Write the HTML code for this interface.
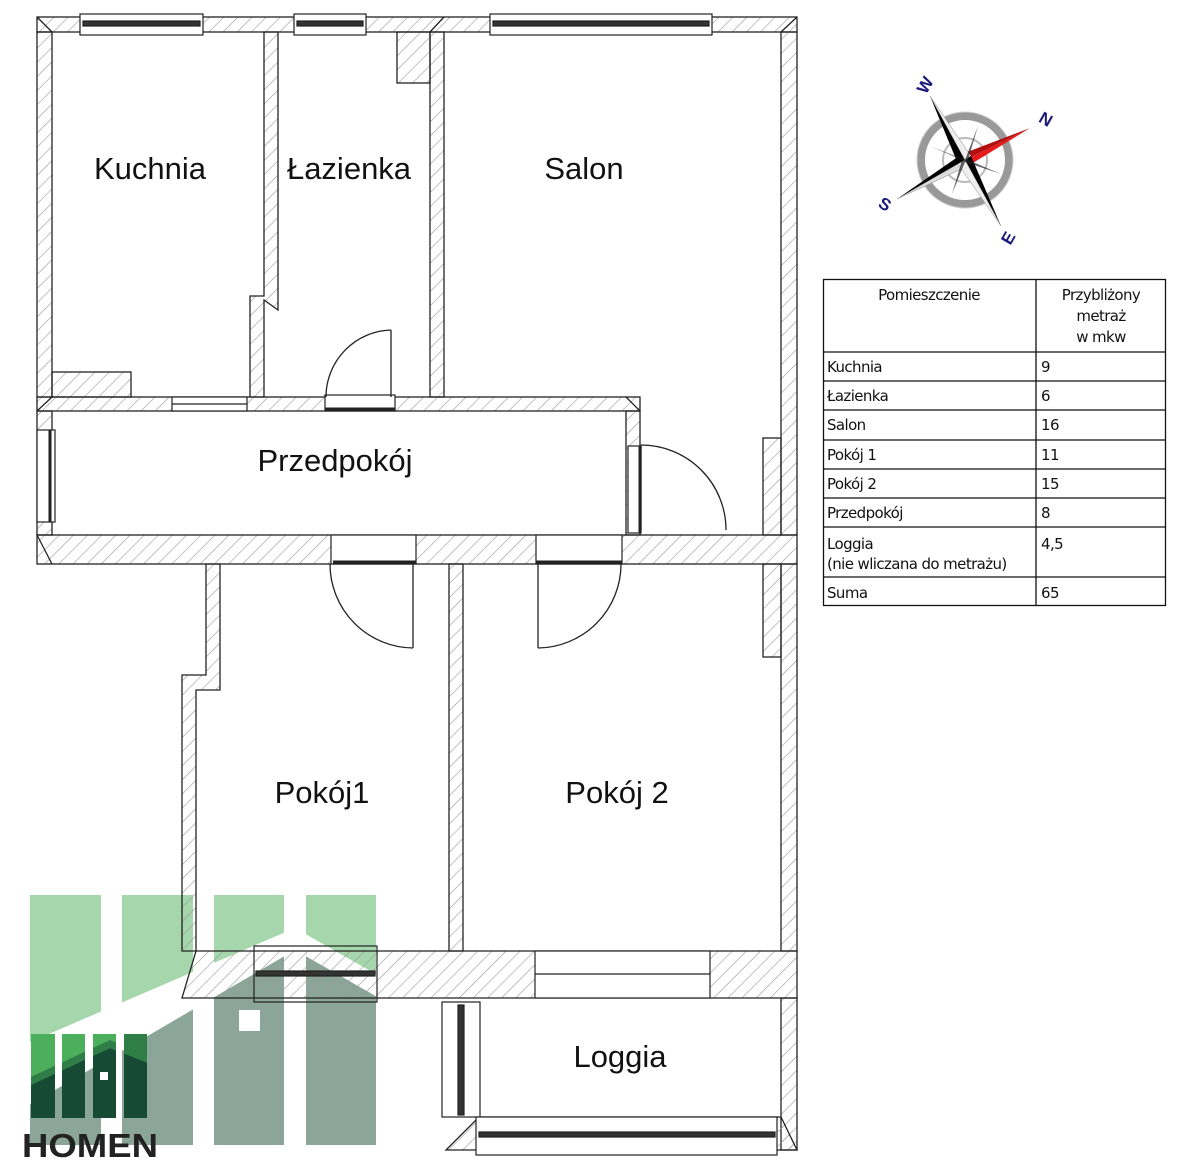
<!DOCTYPE html>
<html><head><meta charset="utf-8"><style>
html,body{margin:0;padding:0;background:#fff;width:1200px;height:1176px;overflow:hidden}
svg{display:block}
.w{fill:url(#h);stroke:#222;stroke-width:1.3}
.l{fill:none;stroke:#222;stroke-width:1.3}
.win{fill:#fff;stroke:#222;stroke-width:1.2}
.rm{font-family:"Liberation Sans",sans-serif;font-size:31px;fill:#111;text-anchor:middle}
.t{font-family:"DejaVu Sans","Liberation Sans",sans-serif;font-size:15px;fill:#111;letter-spacing:-0.6px}
</style></head><body>
<svg width="1200" height="1176" viewBox="0 0 1200 1176" xmlns="http://www.w3.org/2000/svg">
<defs>
<pattern id="h" patternUnits="userSpaceOnUse" width="10" height="10" patternTransform="rotate(45)">
<line x1="0" y1="0" x2="0" y2="10" stroke="#9a9a9a" stroke-width="1.2"/>
</pattern>
<clipPath id="bars"><rect x="30" y="895" width="71" height="250"/><rect x="122" y="895" width="71" height="250"/><rect x="214" y="895" width="70" height="250"/><rect x="306" y="895" width="70" height="250"/></clipPath>
<clipPath id="sb"><rect x="31" y="1034" width="24" height="84"/><rect x="62" y="1034" width="23" height="84"/><rect x="93" y="1034" width="23" height="84"/><rect x="124" y="1034" width="23" height="84"/></clipPath>
</defs>

<!-- logo (behind plan) -->
<g>
<g clip-path="url(#bars)">
<rect x="0" y="880" width="400" height="280" fill="#a5d6ac"/>
<polygon points="0,1055 295,928 400,988 400,1160 0,1160" fill="#fff"/>
<polygon points="0,1122 295,950 400,1010 400,1146 0,1146" fill="#8ba598"/>
</g>
<rect x="239" y="1010" width="21" height="21" fill="#fff"/>
<g clip-path="url(#sb)">
<rect x="20" y="1030" width="140" height="95" fill="#4caf5c"/>
<rect x="124" y="1030" width="30" height="95" fill="#2f7d47"/>
<polygon points="20,1090 110,1048 160,1068 160,1122 20,1122" fill="#174a34"/>
<polygon points="20,1082 110,1040 160,1060 160,1066 110,1048 20,1090" fill="#2f7d47"/>
</g>
<rect x="100" y="1072" width="8" height="8" fill="#fff"/>
<text x="22" y="1157" font-family="Liberation Sans,sans-serif" font-weight="bold" font-size="33" fill="#222" textLength="136" lengthAdjust="spacingAndGlyphs">HOMEN</text>
</g>

<!-- walls -->
<g class="w">
<rect x="37" y="17" width="760" height="15"/>
<rect x="37" y="32" width="15" height="365"/>
<rect x="781" y="32" width="16" height="503"/>
<polygon points="264,32 278,32 278,310 264,300 264,397 250,397 250,296 264,296"/>
<rect x="430" y="32" width="14" height="365"/>
<rect x="397" y="32" width="33" height="51"/>
<rect x="52" y="372" width="79" height="25"/>
<rect x="37" y="397" width="603" height="14"/>
<rect x="626" y="411" width="14" height="124"/>
<rect x="37" y="411" width="15" height="124"/>
<rect x="37" y="535" width="760" height="29"/>
<rect x="763" y="438" width="18" height="97"/>
<rect x="763" y="564" width="18" height="93"/>
<rect x="781" y="564" width="16" height="387"/>
<polygon points="206,564 220,564 220,690 196,690 196,951 182,951 182,675 206,675"/>
<rect x="449" y="564" width="14" height="387"/>
<polygon points="196,951 797,951 797,998 182,998"/>
<rect x="781" y="998" width="16" height="152"/>
<polygon points="479,1117 781,1117 797,1150 446,1150"/>
</g>
<!-- openings (white) -->
<g fill="#fff" stroke="#222" stroke-width="1.2">
<rect x="172" y="397" width="75" height="14"/><line x1="172" y1="404" x2="247" y2="404"/>
<rect x="535" y="951" width="175" height="47"/><line x1="535" y1="974" x2="710" y2="974"/>
<rect x="331" y="535" width="85" height="29"/>
<rect x="536" y="535" width="86" height="29"/>
<rect x="325" y="395" width="70" height="16"/>
<rect x="628" y="446" width="13" height="87"/>
<rect x="37" y="430" width="18" height="92"/>
</g>
<line x1="37" y1="535" x2="52" y2="564" class="l"/>
<line x1="37" y1="411" x2="52" y2="397" class="l"/>
<line x1="626" y1="397" x2="640" y2="411" class="l"/>
<line x1="430" y1="32" x2="444" y2="17" class="l"/>
<line x1="781" y1="32" x2="797" y2="17" class="l"/>
<line x1="52" y1="32" x2="37" y2="17" class="l"/>
<!-- doors -->
<g class="l" stroke-width="1.5">
<path d="M391 330 A67 67 0 0 0 326 397"/><line x1="391" y1="330" x2="391" y2="397"/>
<path d="M641 445 A85 85 0 0 1 726 530"/><line x1="641" y1="445" x2="641" y2="530"/>
<path d="M413 648 A84 84 0 0 1 330 564"/><line x1="413" y1="564" x2="413" y2="648"/>
<path d="M538 648 A84 84 0 0 0 621 564"/><line x1="538" y1="564" x2="538" y2="648"/>
<line x1="325" y1="409" x2="395" y2="409" stroke-width="3"/>
<line x1="640" y1="446" x2="640" y2="533" stroke-width="3"/>
<line x1="50" y1="430" x2="50" y2="522" stroke-width="3"/>
<line x1="333" y1="562" x2="416" y2="562" stroke-width="3"/>
<line x1="536" y1="562" x2="622" y2="562" stroke-width="3"/>
</g>
<!-- windows -->
<g class="win">
<rect x="80" y="14" width="123" height="21"/><rect x="83" y="21" width="117" height="5" fill="#333"/>
<rect x="294" y="14" width="72" height="21"/><rect x="297" y="21" width="66" height="5" fill="#333"/>
<rect x="490" y="14" width="222" height="21"/><rect x="493" y="21" width="216" height="5" fill="#333"/>
<rect x="254" y="946" width="123" height="56" fill="none"/><rect x="256" y="971" width="119" height="5" fill="#333"/>
<rect x="442" y="1002" width="38" height="115"/><rect x="458" y="1005" width="6" height="110" fill="#333"/>
<rect x="476" y="1117" width="301" height="38"/><rect x="479" y="1132" width="296" height="5" fill="#333"/>
</g>

<!-- labels -->
<text class="rm" x="150" y="179">Kuchnia</text>
<text class="rm" x="349" y="179">Łazienka</text>
<text class="rm" x="584" y="179">Salon</text>
<text class="rm" x="335" y="471">Przedpokój</text>
<text class="rm" x="322" y="803">Pokój1</text>
<text class="rm" x="617" y="803">Pokój 2</text>
<text class="rm" x="620" y="1067">Loggia</text>

<!-- compass -->
<g>
<circle cx="965" cy="160" r="44" fill="none" stroke="#999" stroke-width="8"/>
<circle cx="965" cy="160" r="48" fill="none" stroke="#ccc" stroke-width="1"/>
<circle cx="965" cy="160" r="22" fill="none" stroke="#bbb" stroke-width="2"/>
<polygon points="965,160 1030,128 968,166" fill="#e31b1b"/>
<polygon points="965,160 1030,128 962,154" fill="#b01010"/>
<polygon points="965,160 897,199 962,154" fill="#000"/>
<polygon points="965,160 897,199 968,166" fill="#ddd" stroke="#888" stroke-width="0.5"/>
<polygon points="965,160 930,96 958,164" fill="#000"/>
<polygon points="965,160 930,96 971,156" fill="#eee" stroke="#888" stroke-width="0.5"/>
<polygon points="965,160 1001,226 971,156" fill="#000"/>
<polygon points="965,160 1001,226 958,164" fill="#eee" stroke="#888" stroke-width="0.5"/>
<polygon points="965,160 978,126 968,160 1001,174 965,162 952,194 962,160 930,146" fill="#222" opacity="0.7"/>
<g font-family="Liberation Sans,sans-serif" font-weight="bold" font-size="17" fill="#1a1a7a" text-anchor="middle">
<text x="925" y="91" transform="rotate(-60 925 85)">W</text>
<text x="1046" y="125" transform="rotate(30 1046 119)">N</text>
<text x="885" y="210" transform="rotate(30 885 204)">S</text>
<text x="1008" y="244" transform="rotate(-60 1008 238)">E</text>
</g>
</g>

<!-- table -->
<g fill="none" stroke="#111" stroke-width="1.3">
<rect x="823.5" y="279.5" width="342" height="326"/>
<line x1="1036" y1="279" x2="1036" y2="606"/>
<line x1="823" y1="352" x2="1166" y2="352"/>
<line x1="823" y1="381" x2="1166" y2="381"/>
<line x1="823" y1="410" x2="1166" y2="410"/>
<line x1="823" y1="440" x2="1166" y2="440"/>
<line x1="823" y1="469" x2="1166" y2="469"/>
<line x1="823" y1="498" x2="1166" y2="498"/>
<line x1="823" y1="527" x2="1166" y2="527"/>
<line x1="823" y1="577" x2="1166" y2="577"/>
</g>
<g class="t">
<text x="929" y="300" text-anchor="middle">Pomieszczenie</text>
<text x="1101" y="300" text-anchor="middle">Przybliżony</text>
<text x="1101" y="321" text-anchor="middle">metraż</text>
<text x="1101" y="342" text-anchor="middle">w mkw</text>
<text x="827" y="372">Kuchnia</text><text x="1041" y="372">9</text>
<text x="827" y="401">Łazienka</text><text x="1041" y="401">6</text>
<text x="827" y="430">Salon</text><text x="1041" y="430">16</text>
<text x="827" y="460">Pokój 1</text><text x="1041" y="460">11</text>
<text x="827" y="489">Pokój 2</text><text x="1041" y="489">15</text>
<text x="827" y="518">Przedpokój</text><text x="1041" y="518">8</text>
<text x="827" y="549">Loggia</text><text x="1041" y="549">4,5</text>
<text x="827" y="569">(nie wliczana do metrażu)</text>
<text x="827" y="598">Suma</text><text x="1041" y="598">65</text>
</g>
</svg>
</body></html>
